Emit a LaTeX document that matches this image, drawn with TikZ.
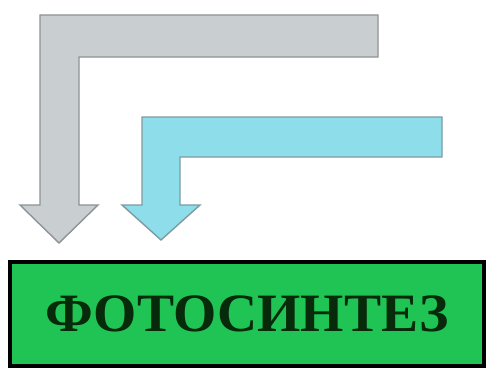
\documentclass[tikz,border=0pt]{standalone}
\usepackage{fontspec}
\setmainfont{Liberation Serif}
\definecolor{grayfill}{HTML}{C9CED0}
\definecolor{grayline}{HTML}{8E9395}
\definecolor{bluefill}{HTML}{8EDDEB}
\definecolor{blueline}{HTML}{7F9AA0}
\definecolor{boxgreen}{HTML}{20C455}
\definecolor{txtgreen}{HTML}{062A0A}
\tikzset{
  grayarrow/.style={fill=grayfill,draw=grayline,line width=1.4pt,line join=miter},
  bluearrow/.style={fill=bluefill,draw=blueline,line width=1.4pt,line join=miter},
  greenbox/.style={fill=boxgreen,draw=black,line width=4pt,minimum width=474pt,minimum height=104pt,inner sep=0pt,
    font=\fontsize{54}{54}\selectfont\bfseries,text=txtgreen}
}
\begin{document}
\begin{tikzpicture}[x=1pt,y=-1pt]
\useasboundingbox (0,0) rectangle (486,369);
\fill[white] (0,0) rectangle (486,369);
\draw[grayarrow] (378,15) -- (40,15) -- (40,205) -- (20,205) -- (59,243) -- (98,205) -- (79,205) -- (79,57) -- (378,57) -- cycle;
\draw[bluearrow] (442,117) -- (142,117) -- (142,205) -- (122,205) -- (161,240) -- (200,205) -- (180,205) -- (180,157) -- (442,157) -- cycle;
\node[greenbox] (box) at (247,314) {\scalebox{1.03}[1]{ФОТОСИНТЕЗ}};
\end{tikzpicture}
\end{document}
